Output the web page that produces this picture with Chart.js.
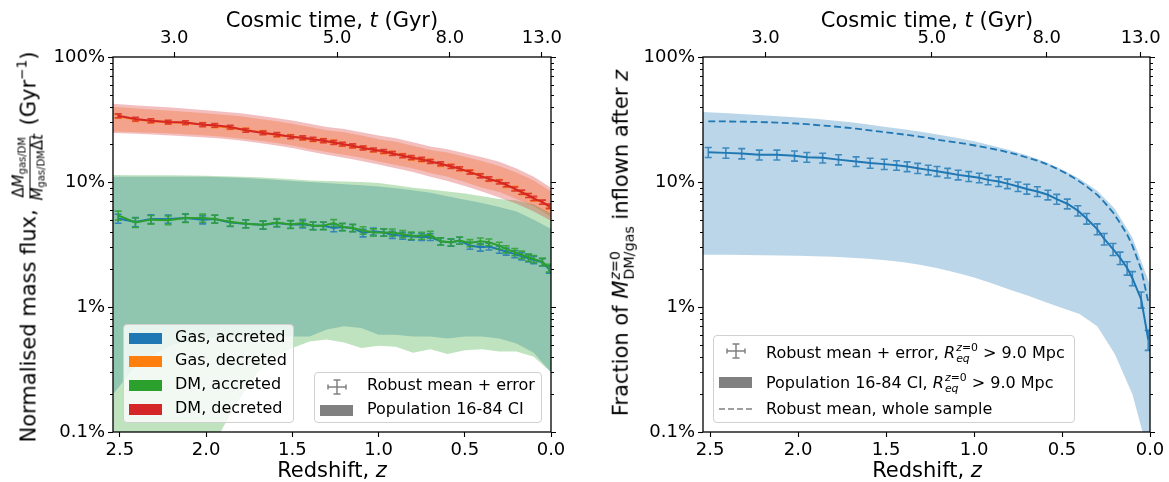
<!DOCTYPE html>
<html>
<head>
<meta charset="utf-8">
<script src="https://cdn.jsdelivr.net/npm/chart.js@4.4.1/dist/chart.umd.min.js"></script>
<style>
  body { margin: 0; background: #fff; font-family: "DejaVu Sans", sans-serif; }
  #wrap { position: relative; width: 1169px; height: 482px; overflow: hidden; }
  canvas { position: absolute; top: 0; }
  #leftChart { left: 0; }
  #rightChart { left: 585px; }
  .txt { position: absolute; white-space: nowrap; color: #000; line-height: 1; }
  .title { font-size: 21px; transform: translate(-50%, -50%); }
  .ytitle { font-size: 21px; transform: translate(-50%, -50%) rotate(-90deg); }
  .frac { display: inline-flex; flex-direction: column; align-items: center; vertical-align: middle; font-size: 15px; line-height: 1.05; margin: 0 2px; }
  .frac .num { border-bottom: 1px solid #000; padding: 0 1px 1px; }
  .frac sub { font-size: 10px; vertical-align: -2px; }
  .ss { display: inline-flex; flex-direction: column; vertical-align: middle; font-size: 0.68em; line-height: 1; margin-left: 1px; }
  sup.m { font-size: 0.65em; vertical-align: 0.6em; }
  .legend { position: absolute; background: rgba(255,255,255,0.8); border: 1px solid #d0d0d0; border-radius: 4px; box-sizing: border-box; }
  .item { position: absolute; white-space: nowrap; font-size: 16px; line-height: 1; }
  .patch { position: absolute; width: 33px; height: 11px; }
  svg.sym { position: absolute; }
</style>
</head>
<body>
<div id="wrap">
  <canvas id="leftChart" width="585" height="482"></canvas>
  <canvas id="rightChart" width="584" height="482"></canvas>

  <!-- axis titles -->
  <div class="txt title" style="left:332px; top:20px;">Cosmic time, <i>t</i> (Gyr)</div>
  <div class="txt title" style="left:927px; top:20px;">Cosmic time, <i>t</i> (Gyr)</div>
  <div class="txt title" style="left:332px; top:470px;">Redshift, <i>z</i></div>
  <div class="txt title" style="left:927px; top:470px;">Redshift, <i>z</i></div>
  <div class="txt ytitle" style="left:29px; top:247px;">Normalised mass flux, <span class="frac"><span class="num">Δ<i>M</i><sub>gas/DM</sub></span><span class="den"><i>M</i><sub>gas/DM</sub>Δ<i>t</i></span></span> (Gyr<sup class="m">−1</sup>)</div>
  <div class="txt ytitle" style="left:622px; top:243px;">Fraction of <i>M</i><span class="ss"><span><i>z</i>=0</span><span>DM/gas</span></span> inflown after <i>z</i></div>

  <!-- left legends -->
  <div class="legend" style="left:123px; top:324px; width:171px; height:99px;">
    <div class="patch" style="left:5px; top:8px; background:#1f77b4;"></div>
    <div class="item" style="left:51px; top:4px;">Gas, accreted</div>
    <div class="patch" style="left:5px; top:31px; background:#ff7f0e;"></div>
    <div class="item" style="left:51px; top:27px;">Gas, decreted</div>
    <div class="patch" style="left:5px; top:55px; background:#2ca02c;"></div>
    <div class="item" style="left:51px; top:51px;">DM, accreted</div>
    <div class="patch" style="left:5px; top:79px; background:#d62728;"></div>
    <div class="item" style="left:51px; top:75px;">DM, decreted</div>
  </div>
  <div class="legend" style="left:314px; top:372px; width:228px; height:51px;">
    <svg class="sym" style="left:10px; top:4px;" width="24" height="20">
      <g stroke="#808080" stroke-width="1.5" fill="none">
        <line x1="12" y1="3" x2="12" y2="17"/><line x1="8.5" y1="3" x2="15.5" y2="3"/><line x1="8.5" y1="17" x2="15.5" y2="17"/>
        <line x1="3" y1="10" x2="21" y2="10"/><line x1="3" y1="7.5" x2="3" y2="12.5"/><line x1="21" y1="7.5" x2="21" y2="12.5"/>
      </g>
    </svg>
    <div class="item" style="left:52px; top:4px;">Robust mean + error</div>
    <div class="patch" style="left:5px; top:32px; background:#808080;"></div>
    <div class="item" style="left:52px; top:28px;">Population 16-84 CI</div>
  </div>

  <!-- right legend -->
  <div class="legend" style="left:713px; top:335px; width:362px; height:88px;">
    <svg class="sym" style="left:10px; top:5px;" width="24" height="20">
      <g stroke="#808080" stroke-width="1.5" fill="none">
        <line x1="12" y1="3" x2="12" y2="17"/><line x1="8.5" y1="3" x2="15.5" y2="3"/><line x1="8.5" y1="17" x2="15.5" y2="17"/>
        <line x1="3" y1="10" x2="21" y2="10"/><line x1="3" y1="7.5" x2="3" y2="12.5"/><line x1="21" y1="7.5" x2="21" y2="12.5"/>
      </g>
    </svg>
    <div class="item" style="left:52px; top:7px;">Robust mean + error, <i>R</i><span class="ss"><span><i>z</i>=0</span><span><i>eq</i></span></span> &gt; 9.0 Mpc</div>
    <div class="patch" style="left:5px; top:41px; background:#808080;"></div>
    <div class="item" style="left:52px; top:37px;">Population 16-84 CI, <i>R</i><span class="ss"><span><i>z</i>=0</span><span><i>eq</i></span></span> &gt; 9.0 Mpc</div>
    <svg class="sym" style="left:5px; top:67px;" width="34" height="12">
      <line x1="0" y1="6" x2="34" y2="6" stroke="#808080" stroke-width="1.5" stroke-dasharray="6,3"/>
    </svg>
    <div class="item" style="left:52px; top:65px;">Robust mean, whole sample</div>
  </div>
</div>

<script>
// ---------------- data ----------------
// redshift of each snapshot (points with error bars)
const zSnap = [2.51, 2.41, 2.32, 2.22, 2.12, 2.02, 1.95, 1.86, 1.77, 1.67,
               1.59, 1.51, 1.44, 1.38, 1.32, 1.26, 1.21, 1.15, 1.09, 1.03,
               0.97, 0.92, 0.86, 0.81, 0.75, 0.70, 0.64, 0.58, 0.53, 0.47,
               0.41, 0.36, 0.30, 0.26, 0.21, 0.17, 0.13, 0.10, 0.05, 0.01];
// redshift grid of the 16-84 population bands
const zBand = [2.54, 2.4, 2.2, 2.0, 1.9, 1.8, 1.7, 1.6, 1.5, 1.4, 1.3, 1.2,
               1.1, 1.0, 0.9, 0.8, 0.7, 0.6, 0.5, 0.4, 0.3, 0.2, 0.1, 0.0];

const zTicks = [0, 0.5, 1.0, 1.5, 2.0, 2.5];
const timeTickZ = [2.185, 1.24, 0.587, 0.053];
const timeTickLabels = ['3.0', '5.0', '8.0', '13.0'];
const yTickVals = [0.1, 1, 10, 100];
const yTickLabels = ['0.1%', '1%', '10%', '100%'];

// left panel, robust means (%) and errors
const gasAccreted = [5.1, 4.79, 5.06, 5.06, 5.15, 4.99, 5.06, 4.75, 4.64, 4.53,
                     4.70, 4.58, 4.6, 4.47, 4.47, 4.29, 4.37, 4.29, 3.91, 4.03,
                     3.95, 3.79, 3.72, 3.67, 3.63, 3.63, 3.35, 3.28, 3.4, 3.1,
                     3.0, 3.05, 2.88, 2.78, 2.65, 2.55, 2.45, 2.38, 2.28, 2.0];
const gasAccretedErr = [0.42, 0.4, 0.4, 0.38, 0.38, 0.37, 0.36, 0.35, 0.34, 0.33,
                        0.33, 0.32, 0.31, 0.31, 0.3, 0.29, 0.29, 0.28, 0.27, 0.26,
                        0.26, 0.25, 0.24, 0.24, 0.23, 0.23, 0.22, 0.21, 0.21, 0.2,
                        0.2, 0.19, 0.19, 0.18, 0.17, 0.17, 0.16, 0.16, 0.15, 0.14];
const gasDecreted = [33.5, 31.6, 30.7, 30.0, 29.8, 28.9, 28.1, 27.2, 26.1, 24.9,
                     23.7, 23.2, 22.4, 21.8, 21.5, 20.9, 20.0, 19.3, 18.8, 18.0,
                     17.4, 17.0, 16.3, 15.5, 15.0, 14.7, 13.8, 13.4, 12.7, 12.1,
                     11.3, 10.5, 10.1, 9.4, 8.9, 8.2, 7.8, 7.3, 6.9, 6.3];
const gasDecretedErr = [1.15, 1.1, 1.05, 1.0, 1.0, 0.98, 0.95, 0.92, 0.9, 0.86,
                        0.83, 0.8, 0.78, 0.76, 0.75, 0.72, 0.69, 0.67, 0.65, 0.62,
                        0.6, 0.59, 0.57, 0.54, 0.52, 0.51, 0.48, 0.47, 0.45, 0.43,
                        0.4, 0.38, 0.37, 0.34, 0.33, 0.3, 0.29, 0.27, 0.26, 0.24];
const dmAccreted = [5.4, 4.75, 5.0, 4.95, 5.15, 5.15, 5.06, 4.8, 4.64, 4.55,
                    4.75, 4.58, 4.7, 4.47, 4.47, 4.70, 4.37, 4.29, 4.10, 3.95,
                    3.95, 3.95, 3.84, 3.72, 3.72, 3.79, 3.35, 3.3, 3.4, 3.25,
                    3.35, 3.3, 3.1, 2.9, 2.75, 2.62, 2.5, 2.42, 2.3, 2.05];
const dmAccretedErr = [0.45, 0.42, 0.4, 0.4, 0.4, 0.38, 0.37, 0.36, 0.35, 0.34,
                       0.34, 0.33, 0.33, 0.32, 0.31, 0.3, 0.3, 0.29, 0.28, 0.27,
                       0.27, 0.26, 0.25, 0.25, 0.24, 0.24, 0.23, 0.22, 0.22, 0.21,
                       0.21, 0.2, 0.2, 0.19, 0.18, 0.18, 0.17, 0.16, 0.16, 0.15];
const dmDecreted = [33.9, 31.9, 30.9, 30.2, 29.9, 28.7, 28.4, 27.5, 25.9, 24.7,
                    24.0, 23.0, 22.6, 22.0, 21.4, 20.7, 20.1, 19.5, 18.7, 18.1,
                    17.6, 16.9, 16.2, 15.7, 15.2, 14.6, 14.0, 13.3, 12.8, 12.0,
                    11.2, 10.6, 10.0, 9.5, 8.8, 8.3, 7.8, 7.4, 6.9, 6.4];
const dmDecretedErr = [1.2, 1.1, 1.1, 1.0, 1.0, 1.0, 0.95, 0.95, 0.9, 0.85,
                       0.85, 0.8, 0.8, 0.78, 0.75, 0.72, 0.7, 0.68, 0.65, 0.63,
                       0.62, 0.6, 0.57, 0.55, 0.53, 0.51, 0.49, 0.47, 0.45, 0.43,
                       0.41, 0.39, 0.37, 0.35, 0.33, 0.31, 0.29, 0.28, 0.26, 0.25];

// left panel, population 16-84 CI (%) on zBand
const gasAccLo = [0.2, 0.35, 0.5, 0.56, 0.57, 0.58, 0.58, 0.58, 0.58, 0.58, 0.66, 0.70,
                  0.68, 0.60, 0.60, 0.58, 0.58, 0.56, 0.58, 0.58, 0.56, 0.51, 0.43, 0.30];
const gasAccHi = [11.0, 11.0, 11.0, 11.0, 10.9, 10.8, 10.6, 10.4, 10.2, 10.0, 9.8, 9.6,
                  9.4, 9.2, 8.9, 8.6, 8.2, 7.7, 7.2, 6.8, 6.3, 5.8, 5.0, 4.2];
const gasDecLo = [25.4, 25.0, 24.4, 23.5, 23.0, 22.3, 21.5, 20.6, 19.6, 18.4, 17.4, 16.5,
                  15.6, 14.6, 13.7, 12.8, 11.8, 11.0, 10.0, 9.0, 8.3, 7.3, 6.4, 5.3];
const gasDecHi = [40.0, 38.8, 37.2, 35.5, 34.5, 33.5, 32.0, 30.7, 29.2, 27.6, 26.0, 25.0,
                  23.6, 22.0, 21.0, 19.5, 18.0, 17.2, 15.9, 14.7, 13.4, 11.9, 10.3, 8.4];
const dmAccLo = [0.03, 0.03, 0.03, 0.06, 0.11, 0.19, 0.30, 0.40, 0.47, 0.53, 0.55, 0.52,
                 0.47, 0.49, 0.48, 0.43, 0.46, 0.42, 0.45, 0.46, 0.44, 0.44, 0.40, 0.30];
const dmAccHi = [11.4, 11.3, 11.3, 11.2, 11.1, 11.0, 10.9, 10.7, 10.5, 10.3, 10.2, 10.1,
                 10.0, 9.8, 9.4, 9.0, 8.7, 8.4, 8.1, 7.7, 7.3, 7.1, 6.6, 5.6];
const dmDecLo = [24.7, 24.3, 23.6, 22.7, 22.2, 21.5, 20.6, 19.7, 18.7, 17.5, 16.5, 15.6,
                 14.7, 13.8, 12.9, 12.0, 11.0, 10.2, 9.3, 8.4, 7.5, 6.7, 5.8, 4.9];
const dmDecHi = [42.3, 41.0, 39.5, 37.5, 36.5, 35.5, 34.0, 32.5, 31.0, 29.3, 27.6, 26.5,
                 25.0, 23.5, 22.4, 20.8, 19.2, 18.3, 17.0, 15.8, 14.5, 12.8, 11.0, 9.0];

// right panel (%)
const inflowMean = [17.3, 17.1, 16.9, 16.5, 16.5, 16.2, 15.8, 15.6, 15.1, 14.6,
                    14.2, 13.9, 13.6, 13.3, 12.9, 12.5, 12.2, 11.8, 11.4, 11.1,
                    10.8, 10.4, 10.1, 9.7, 9.2, 8.8, 8.4, 7.9, 7.3, 6.7,
                    5.9, 5.1, 4.2, 3.5, 2.9, 2.47, 2.05, 1.70, 1.15, 0.55];
const inflowErr = [1.6, 1.6, 1.6, 1.5, 1.5, 1.5, 1.4, 1.4, 1.4, 1.3,
                   1.3, 1.3, 1.2, 1.2, 1.2, 1.1, 1.1, 1.05, 1.0, 1.0,
                   0.95, 0.9, 0.9, 0.85, 0.8, 0.8, 0.75, 0.7, 0.66, 0.6,
                   0.55, 0.5, 0.42, 0.37, 0.32, 0.28, 0.25, 0.22, 0.17, 0.1];
const inflowAll = [30.6, 30.5, 30.4, 30.2, 29.9, 29.4, 29.0, 28.3, 27.6, 26.7,
                   25.9, 25.1, 24.4, 23.8, 23.2, 22.5, 21.8, 21.2, 20.6, 20.0,
                   19.3, 18.7, 18.0, 17.3, 16.5, 15.7, 14.8, 13.8, 12.8, 11.6,
                   10.3, 9.2, 7.9, 6.9, 5.7, 4.7, 3.8, 3.1, 2.0, 1.1];
const inflowLo = [2.62, 2.62, 2.6, 2.57, 2.55, 2.52, 2.48, 2.43, 2.37, 2.28, 2.17, 2.03,
                  1.88, 1.72, 1.55, 1.38, 1.24, 1.10, 0.98, 0.88, 0.70, 0.42, 0.20, 0.06];
const inflowHi = [36.3, 35.5, 34.2, 32.8, 32.0, 31.0, 30.0, 28.8, 27.6, 26.4, 25.2, 23.9,
                  22.6, 21.2, 19.6, 18.0, 16.4, 14.6, 12.6, 10.6, 8.5, 6.1, 3.6, 1.5];

// ---------------- helpers ----------------
const BLUE = '#1f77b4', ORANGE = '#ff7f0e', GREEN = '#2ca02c', RED = '#d62728';
const tickFont = { family: 'DejaVu Sans', size: 18 };

function pts(xs, ys) {
  return xs.map((x, i) => ({ x: x, y: ys[i] }));
}

function band(lo, hi, fillColor, order) {
  return [
    { data: pts(zBand, lo), borderWidth: 0, pointRadius: 0, fill: false, order: order },
    { data: pts(zBand, hi), borderWidth: 0, pointRadius: 0, fill: '-1', backgroundColor: fillColor, order: order }
  ];
}

function meanLine(vals, errs, color, errColor, order) {
  return { data: pts(zSnap, vals), borderColor: color, borderWidth: 2, pointRadius: 0,
           fill: false, order: order, errors: errs, errorColor: errColor };
}

// error bars drawn through the chart scales
const errorBarPlugin = {
  id: 'errorBars',
  afterDatasetDraw(chart, args) {
    const ds = chart.data.datasets[args.index];
    if (!ds.errors) return;
    const { ctx, chartArea: a } = chart;
    const x = chart.scales.x, y = chart.scales.y;
    ctx.save();
    ctx.beginPath();
    ctx.rect(a.left, a.top, a.right - a.left, a.bottom - a.top);
    ctx.clip();
    ctx.strokeStyle = ds.errorColor;
    ctx.lineWidth = 1.6;
    ds.data.forEach((p, i) => {
      const px = x.getPixelForValue(p.x);
      const top = y.getPixelForValue(p.y + ds.errors[i]);
      const bot = y.getPixelForValue(Math.max(p.y - ds.errors[i], 1e-4));
      ctx.beginPath();
      ctx.moveTo(px, top); ctx.lineTo(px, bot);
      ctx.moveTo(px - 3.5, top); ctx.lineTo(px + 3.5, top);
      ctx.moveTo(px - 3.5, bot); ctx.lineTo(px + 3.5, bot);
      ctx.stroke();
    });
    ctx.restore();
  }
};

// frame + log minor ticks + right-hand ticks
const framePlugin = {
  id: 'frame',
  afterDraw(chart) {
    const { ctx, chartArea: a } = chart;
    const y = chart.scales.y;
    ctx.save();
    ctx.strokeStyle = '#000';
    ctx.lineWidth = 1;
    ctx.beginPath();
    for (let d = 0; d < yTickVals.length - 1; d++) {
      for (let k = 2; k < 10; k++) {
        const py = Math.round(y.getPixelForValue(k * yTickVals[d])) + 0.5;
        ctx.moveTo(a.left - 3, py); ctx.lineTo(a.left, py);
        ctx.moveTo(a.right, py); ctx.lineTo(a.right + 3, py);
      }
    }
    yTickVals.forEach(v => {
      const py = Math.round(y.getPixelForValue(v)) + 0.5;
      ctx.moveTo(a.right, py); ctx.lineTo(a.right + 5, py);
    });
    ctx.stroke();
    ctx.lineWidth = 1.3;
    ctx.strokeRect(a.left, a.top, a.right - a.left, a.bottom - a.top);
    ctx.restore();
  }
};

function makeChart(id, datasets, yWidth, padRight) {
  const tickGrid = { display: true, drawOnChartArea: false, drawTicks: true,
                     tickLength: 5, tickColor: '#000', tickWidth: 1.1 };
  return new Chart(document.getElementById(id), {
    type: 'line',
    data: { datasets: datasets },
    plugins: [errorBarPlugin, framePlugin],
    options: {
      responsive: false,
      animation: false,
      devicePixelRatio: 1,
      layout: { padding: { left: 0, right: padRight, top: 0, bottom: 0 } },
      plugins: { legend: { display: false }, tooltip: { enabled: false } },
      scales: {
        x: {
          type: 'linear', position: 'bottom', min: 0, max: 2.54, reverse: true,
          grid: tickGrid, border: { display: false },
          afterBuildTicks: axis => { axis.ticks = zTicks.map(v => ({ value: v })); },
          afterFit: axis => { axis.height = 50; },
          ticks: { font: tickFont, color: '#000', padding: 3, maxRotation: 0, autoSkip: false,
                   callback: v => v.toFixed(1) }
        },
        x2: {
          type: 'linear', position: 'top', min: 0, max: 2.54, reverse: true,
          grid: tickGrid, border: { display: false },
          afterBuildTicks: axis => { axis.ticks = timeTickZ.map(v => ({ value: v })); },
          afterFit: axis => { axis.height = 57; },
          ticks: { font: tickFont, color: '#000', padding: 3, maxRotation: 0, autoSkip: false,
                   callback: (v, i) => timeTickLabels[i] }
        },
        y: {
          type: 'logarithmic', position: 'left', min: 0.1, max: 100,
          grid: tickGrid, border: { display: false },
          afterBuildTicks: axis => { axis.ticks = yTickVals.map(v => ({ value: v })); },
          afterFit: axis => { axis.width = yWidth; },
          ticks: { font: tickFont, color: '#000', padding: 3, autoSkip: false,
                   callback: (v, i) => yTickLabels[i] }
        }
      }
    }
  });
}

// ---------------- left panel ----------------
const leftSets = [
  meanLine(dmDecreted, dmDecretedErr, RED, 'rgba(214,39,40,0.8)', 1),
  meanLine(dmAccreted, dmAccretedErr, GREEN, 'rgba(44,160,44,0.8)', 2),
  meanLine(gasDecreted, gasDecretedErr, ORANGE, 'rgba(255,127,14,0.8)', 3),
  meanLine(gasAccreted, gasAccretedErr, BLUE, 'rgba(31,119,180,0.8)', 4)
].concat(
  band(dmDecLo, dmDecHi, 'rgba(214,39,40,0.3)', 10),
  band(dmAccLo, dmAccHi, 'rgba(44,160,44,0.3)', 11),
  band(gasDecLo, gasDecHi, 'rgba(255,127,14,0.3)', 12),
  band(gasAccLo, gasAccHi, 'rgba(31,119,180,0.3)', 13)
);
makeChart('leftChart', leftSets, 113, 34);

// ---------------- right panel ----------------
const rightSets = [
  meanLine(inflowMean, inflowErr, BLUE, 'rgba(31,119,180,0.8)', 1),
  { data: pts(zSnap, inflowAll), borderColor: BLUE, borderWidth: 1.8, borderDash: [7, 3.5],
    pointRadius: 0, fill: false, order: 2 }
].concat(band(inflowLo, inflowHi, 'rgba(31,119,180,0.3)', 10));
makeChart('rightChart', rightSets, 118, 19);
</script>
</body>
</html>
